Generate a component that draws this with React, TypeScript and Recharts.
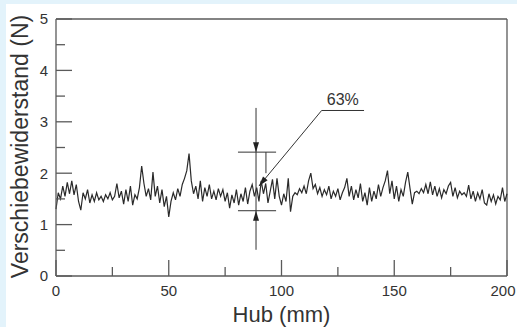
import React from 'react';
import { LineChart, Line, XAxis, YAxis, ReferenceLine, Label } from 'recharts';

// Verschiebewiderstand (N), ein Wert pro mm Hub (0..200)
const kraft = [
  1.30, 1.62, 1.50, 1.75, 1.55, 1.82, 1.60, 1.85, 1.58, 1.78,
  1.45, 1.28, 1.62, 1.50, 1.68, 1.42, 1.58, 1.45, 1.62, 1.48,
  1.55, 1.45, 1.58, 1.50, 1.62, 1.48, 1.55, 1.80, 1.52, 1.65,
  1.40, 1.68, 1.45, 1.75, 1.38, 1.58, 1.50, 1.72, 2.14, 1.80,
  1.55, 1.70, 1.48, 2.02, 1.55, 1.75, 1.42, 1.68, 1.35, 1.55,
  1.15, 1.45, 1.62, 1.48, 1.70, 1.55, 1.78, 1.90, 2.05, 2.38,
  1.85, 1.60, 1.75, 1.50, 1.85, 1.45, 1.72, 1.55, 1.78, 1.50,
  1.65, 1.48, 1.70, 1.55, 1.68, 1.45, 1.62, 1.32, 1.58, 1.42,
  1.68, 1.38, 1.60, 1.45, 1.72, 1.40, 1.65, 1.78, 1.55, 1.72,
  1.45, 1.85, 1.60, 1.80, 1.42, 1.65, 1.88, 1.50, 1.90, 1.55,
  1.38, 1.60, 1.45, 1.90, 1.25, 1.55, 1.62, 1.58, 1.70, 1.62,
  1.75, 1.60, 1.85, 2.00, 1.70, 1.78, 1.60, 1.72, 1.55, 1.68,
  1.58, 1.75, 1.50, 1.65, 1.55, 1.70, 1.48, 1.62, 1.72, 1.90,
  1.55, 1.75, 1.48, 1.68, 1.52, 1.80, 1.45, 1.62, 1.38, 1.72,
  1.45, 1.65, 1.50, 1.78, 1.55, 1.72, 1.85, 2.05, 1.60, 1.85,
  1.50, 1.75, 1.45, 1.68, 1.55, 1.82, 2.02, 1.70, 1.40, 1.62,
  1.65, 1.60, 1.70, 1.62, 1.78, 1.60, 1.83, 1.58, 1.75, 1.55,
  1.70, 1.52, 1.68, 1.60, 1.75, 1.82, 1.55, 1.72, 1.52, 1.65,
  1.58, 1.62, 1.55, 1.77, 1.50, 1.65, 1.45, 1.62, 1.50, 1.68,
  1.42, 1.38, 1.60, 1.45, 1.58, 1.40, 1.55, 1.48, 1.72, 1.45,
  1.60,
];

const xTicks = [0, 25, 50, 75, 100, 125, 150, 175, 200];
const yTicks = [0, 0.5, 1, 1.5, 2, 2.5, 3, 3.5, 4, 4.5, 5];

// Markierung: Streuband bei ca. 89 mm
const markX = 88.7;
const markOben = 2.41;
const markUnten = 1.27;
const bandVon = 80.7;
const bandBis = 97.6;
const pfeilStart = 3.27;
const pfeilEnde = 0.51;
const strichX = 93.1;
const strichBis = 2.0;
// Hinweislinie zu "63%"
const hinweisSpitze = { x: 90.0, y: 1.75 };
const hinweisKnick = { x: 117.8, y: 3.22 };
const hinweisEnde = 136.6;
const hinweisText = '63%';

const daten = kraft.map((f, i) => ({ hub: i, kraft: f }));

const achsFarbe = '#5a5a5a';
const font = '"Liberation Sans", Arial, Helvetica, sans-serif';

const XTick = ({ x, y, payload }: any) => {
  const gross = payload.value % 50 === 0;
  // "200" sitzt knapp am rechten Rand
  const tx = Math.min(x, 497);
  return (
    <g>
      <line x1={x} x2={x} y1={y} y2={y - (gross ? 16 : 9)} stroke={achsFarbe} strokeWidth={1.3} />
      {gross && (
        <text x={tx} y={y + 20} textAnchor="middle" fontSize={15} fill="#333" fontFamily={font}>
          {payload.value}
        </text>
      )}
    </g>
  );
};

const YTick = ({ x, y, payload }: any) => {
  const gross = Number.isInteger(payload.value);
  return (
    <g>
      <line x1={x} x2={x + (gross ? 16 : 9)} y1={y} y2={y} stroke={achsFarbe} strokeWidth={1.3} />
      {gross && (
        <text x={x - 8} y={y} dy="0.36em" textAnchor="end" fontSize={15} fill="#333" fontFamily={font}>
          {payload.value}
        </text>
      )}
    </g>
  );
};

// Linie mit gefülltem Pfeil am Ende
const mitPfeil = (props: any) => {
  const { x1, y1, x2, y2 } = props;
  const w = Math.atan2(y2 - y1, x2 - x1);
  const len = 10;
  const b = 3;
  const bx = x2 - len * Math.cos(w);
  const by = y2 - len * Math.sin(w);
  const px = -Math.sin(w) * b;
  const py = Math.cos(w) * b;
  return (
    <g>
      <line x1={x1} y1={y1} x2={x2} y2={y2} stroke="#333" strokeWidth={1} />
      <polygon points={`${x2},${y2} ${bx + px},${by + py} ${bx - px},${by - py}`} fill="#222" />
    </g>
  );
};

const mitText = (props: any) => {
  const { x1, y1, x2, y2 } = props;
  return (
    <g>
      <line x1={x1} y1={y1} x2={x2} y2={y2} stroke="#333" strokeWidth={1} />
      <text x={(x1 + x2) / 2} y={y1 - 5} textAnchor="middle" fontSize={16} fill="#333" fontFamily={font}>
        {hinweisText}
      </text>
    </g>
  );
};

export default function App() {
  return (
    <div style={{ position: 'absolute', left: 0, top: 0, width: 517, height: 327, background: '#e3f3fb' }}>
      <div style={{ position: 'absolute', left: 6, top: 4, width: 511, height: 323, background: '#fff' }}>
        <LineChart width={511} height={323} data={daten} margin={{ top: 15, right: 10, bottom: 5, left: 6 }}>
          <XAxis
            dataKey="hub"
            type="number"
            domain={[0, 200]}
            ticks={xTicks}
            interval={0}
            tickSize={0}
            tickMargin={0}
            tickLine={false}
            tick={<XTick />}
            height={46}
            axisLine={{ stroke: achsFarbe, strokeWidth: 1.3 }}
          >
            <Label
              content={({ viewBox }: any) => (
                <text
                  x={viewBox.x + viewBox.width / 2}
                  y={viewBox.y + 46}
                  textAnchor="middle"
                  fontSize={22}
                  fill="#333"
                  fontFamily={font}
                >
                  Hub (mm)
                </text>
              )}
            />
          </XAxis>
          <YAxis
            type="number"
            domain={[0, 5]}
            ticks={yTicks}
            interval={0}
            tickSize={0}
            tickMargin={0}
            tickLine={false}
            tick={<YTick />}
            width={44}
            axisLine={{ stroke: achsFarbe, strokeWidth: 1.3 }}
          >
            <Label
              content={({ viewBox }: any) => {
                const cx = viewBox.x + 8;
                const cy = viewBox.y + viewBox.height / 2 - 1;
                return (
                  <text
                    x={cx}
                    y={cy}
                    transform={`rotate(-90 ${cx} ${cy})`}
                    textAnchor="middle"
                    dominantBaseline="central"
                    fontSize={23}
                    fill="#333"
                    fontFamily={font}
                  >
                    Verschiebewiderstand (N)
                  </text>
                );
              }}
            />
          </YAxis>
          {/* Rahmen oben und rechts */}
          <ReferenceLine y={5} stroke={achsFarbe} strokeWidth={1.3} />
          <ReferenceLine x={200} stroke={achsFarbe} strokeWidth={1.3} />

          <Line
            type="linear"
            dataKey="kraft"
            stroke="#2a2a2a"
            strokeWidth={1.2}
            dot={false}
            isAnimationActive={false}
          />

          <ReferenceLine segment={[{ x: bandVon, y: markOben }, { x: bandBis, y: markOben }]} stroke="#333" />
          <ReferenceLine segment={[{ x: bandVon, y: markUnten }, { x: bandBis, y: markUnten }]} stroke="#333" />
          <ReferenceLine segment={[{ x: markX, y: markOben }, { x: markX, y: markUnten }]} stroke="#333" />
          <ReferenceLine segment={[{ x: markX, y: pfeilStart }, { x: markX, y: markOben }]} shape={mitPfeil} />
          <ReferenceLine segment={[{ x: markX, y: pfeilEnde }, { x: markX, y: markUnten }]} shape={mitPfeil} />
          <ReferenceLine segment={[{ x: strichX, y: markOben }, { x: strichX, y: strichBis }]} stroke="#333" />
          <ReferenceLine segment={[hinweisKnick, hinweisSpitze]} shape={mitPfeil} />
          <ReferenceLine segment={[hinweisKnick, { x: hinweisEnde, y: hinweisKnick.y }]} shape={mitText} />
        </LineChart>
      </div>
    </div>
  );
}
